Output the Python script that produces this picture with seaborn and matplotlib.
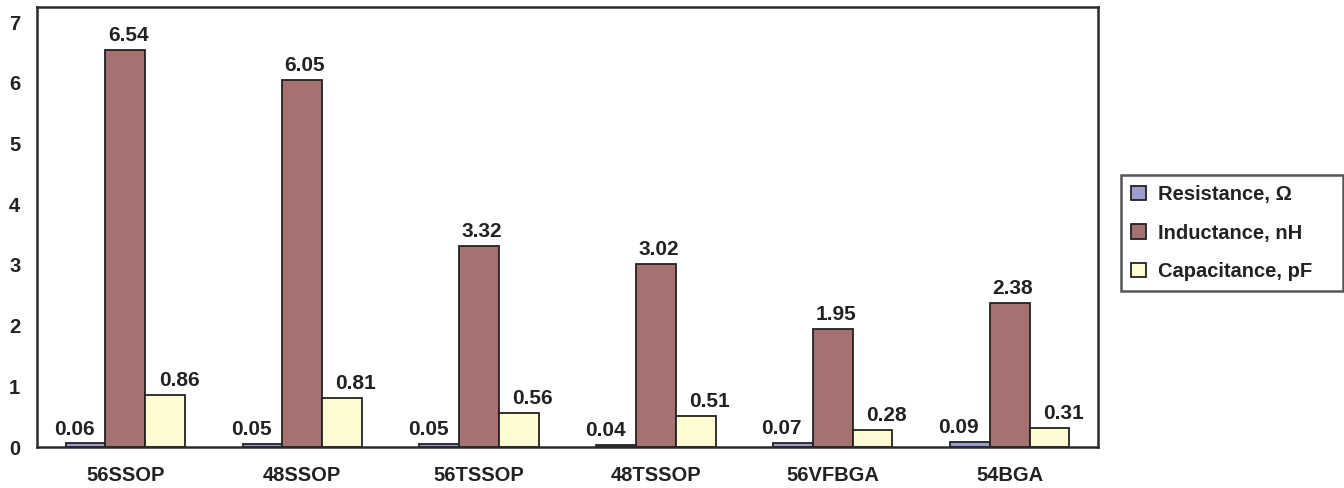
import matplotlib
matplotlib.use("Agg")
import matplotlib.pyplot as plt
import seaborn as sns
import pandas as pd

# Package parasitics per package type
packages = ["56SSOP", "48SSOP", "56TSSOP", "48TSSOP", "56VFBGA", "54BGA"]
resistance = [0.06, 0.05, 0.05, 0.04, 0.07, 0.09]
inductance = [6.54, 6.05, 3.32, 3.02, 1.95, 2.38]
capacitance = [0.86, 0.81, 0.56, 0.51, 0.28, 0.31]
series_names = ["Resistance, \u03a9", "Inductance, nH", "Capacitance, pF"]
y_ticks = [0, 1, 2, 3, 4, 5, 6, 7]

colors = ["#9c9ccf", "#a57171", "#fffbd2"]

rows = []
for name, vals in zip(series_names, [resistance, inductance, capacitance]):
    for pkg, v in zip(packages, vals):
        rows.append({"Package": pkg, "Parameter": name, "Value": v})
df = pd.DataFrame(rows)

sns.set_style("white")
plt.rcParams["font.family"] = ["Liberation Sans", "DejaVu Sans"]
plt.rcParams["font.weight"] = "bold"

fig = plt.figure(figsize=(13.44, 4.88), dpi=100)
ax = fig.add_axes([0.0275, 0.084, 0.7895, 0.9015])

sns.barplot(data=df, x="Package", y="Value", hue="Parameter",
            order=packages, hue_order=series_names, palette=colors,
            width=0.675, edgecolor="#222222", linewidth=1.3,
            saturation=1, errorbar=None, ax=ax)

ax.set_ylim(0, 7.25)
ax.set_xlim(-0.5, 5.5)
ax.set_yticks(y_ticks)
ax.set_xlabel("")
ax.set_ylabel("")
ax.tick_params(axis="both", length=0, labelsize=14.5, labelcolor="#222222")
ax.tick_params(axis="x", pad=14)
ax.tick_params(axis="y", pad=12)
for lab in ax.get_xticklabels() + ax.get_yticklabels():
    lab.set_fontweight("bold")
for sp in ax.spines.values():
    sp.set_visible(True)
    sp.set_color("#2a2a2a")
    sp.set_linewidth(1.8)

# value labels above bars, nudged outward for the side bars
dx = [-8, 2, 10]
for container, off in zip(ax.containers, dx):
    for rect in container:
        h = rect.get_height()
        ax.annotate(f"{h:.2f}", (rect.get_x() + rect.get_width() / 2, h),
                    xytext=(off, 3.5), textcoords="offset points",
                    ha="center", va="bottom", fontsize=15,
                    fontweight="bold", color="#222222")

leg = ax.legend(loc="center", bbox_to_anchor=(1.0217, 0.3545, 0.209, 0.2636),
                mode="expand", frameon=True, fancybox=False, fontsize=14.5,
                handlelength=0.72, handleheight=0.72, handletextpad=0.6,
                labelspacing=0.98, borderpad=0.5, borderaxespad=0)
leg.get_frame().set_edgecolor("#2a2a2a")
leg.get_frame().set_linewidth(1.8)
for t in leg.get_texts():
    t.set_fontweight("bold")
    t.set_color("#222222")

fig.savefig("out.png", dpi=100)
